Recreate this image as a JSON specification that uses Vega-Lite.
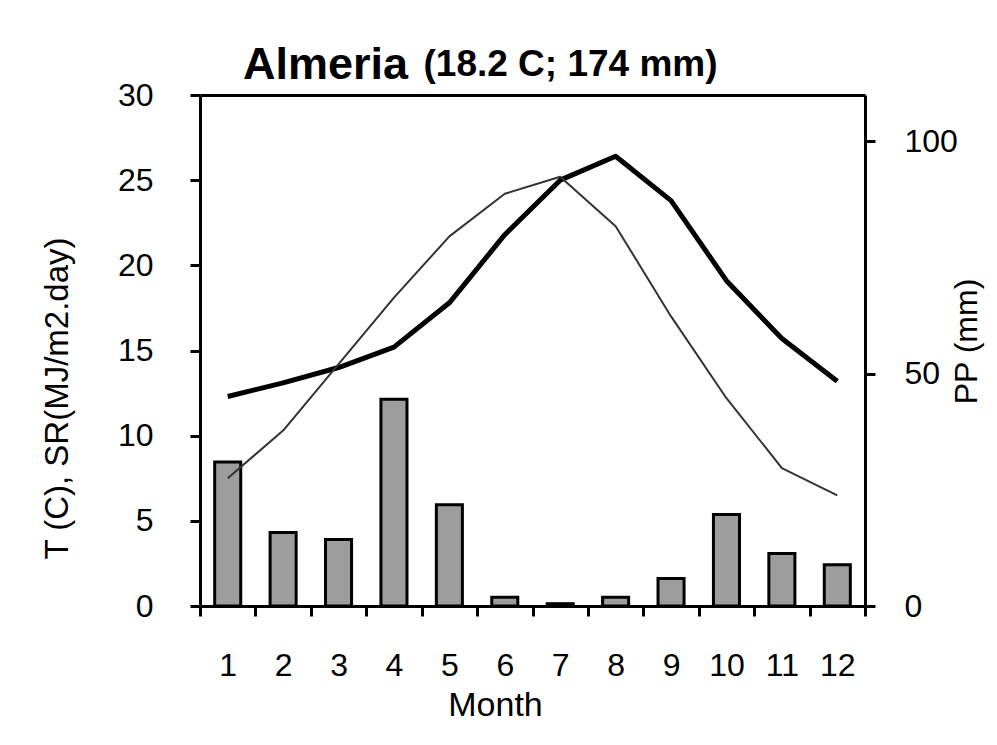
{
  "$schema": "https://vega.github.io/schema/vega-lite/v6.json",
  "width": 665,
  "height": 511,
  "autosize": "none",
  "padding": {"left": 200, "top": 95, "right": 132, "bottom": 139},
  "background": "white",
  "title": {"text": "Almeria", "anchor": "start", "frame": "group", "dx": 43, "dy": 47, "fontSize": 45, "fontWeight": "bold", "font": "Liberation Sans", "color": "black"},
  "data": {"values": [
    {"month": 1, "T": 12.3, "SR": 7.5, "PP": 31.0},
    {"month": 2, "T": 13.1, "SR": 10.3, "PP": 15.8},
    {"month": 3, "T": 14.0, "SR": 14.2, "PP": 14.3},
    {"month": 4, "T": 15.2, "SR": 18.1, "PP": 44.5},
    {"month": 5, "T": 17.8, "SR": 21.7, "PP": 21.8},
    {"month": 6, "T": 21.8, "SR": 24.2, "PP": 1.9},
    {"month": 7, "T": 25.0, "SR": 25.2, "PP": 0.5},
    {"month": 8, "T": 26.4, "SR": 22.3, "PP": 1.9},
    {"month": 9, "T": 23.8, "SR": 17.0, "PP": 5.9},
    {"month": 10, "T": 19.1, "SR": 12.2, "PP": 19.7},
    {"month": 11, "T": 15.7, "SR": 8.1, "PP": 11.3},
    {"month": 12, "T": 13.2, "SR": 6.5, "PP": 8.9}
  ]},
  "config": {
    "view": {"stroke": null},
    "axis": {
      "grid": false,
      "domainColor": "black",
      "domainWidth": 3,
      "tickColor": "black",
      "tickWidth": 3,
      "labelFont": "Liberation Sans",
      "titleFont": "Liberation Sans",
      "labelColor": "black",
      "titleColor": "black",
      "labelFontSize": 32,
      "titleFontSize": 33,
      "titleFontWeight": "normal"
    }
  },
  "resolve": {"scale": {"y": "independent"}, "axis": {"x": "independent"}},
  "layer": [
    {
      "mark": {"type": "bar", "fill": "#9d9d9d", "stroke": "black", "strokeWidth": 3, "width": {"band": 0.47}},
      "encoding": {
        "x": {
          "field": "month", "type": "ordinal",
          "scale": {"paddingInner": 0, "paddingOuter": 0},
          "axis": {
            "orient": "bottom", "labelAngle": 0, "tickBand": "extent", "tickSize": 10,
            "labelPadding": 34, "title": "Month", "titleFontSize": 34,
            "titleX": 295, "titleY": 109, "titleBaseline": "alphabetic", "titleAlign": "center",
            "encode": {"ticks": {"update": {"y": {"value": -10}}}}
          }
        },
        "y": {
          "field": "PP", "type": "quantitative",
          "scale": {"domain": [0, 110], "nice": false},
          "axis": {
            "orient": "right", "values": [0, 50, 100], "tickSize": 10, "labelPadding": 29,
            "title": "PP (mm)", "titleFontSize": 32, "titleAngle": 270,
            "titleX": 111, "titleY": 246, "titleBaseline": "alphabetic", "titleAlign": "center",
            "encode": {"ticks": {"update": {"x": {"value": -10}}}}
          }
        }
      }
    },
    {
      "transform": [{"fold": ["T", "SR"], "as": ["series", "value"]}],
      "mark": {"type": "line", "strokeJoin": "round"},
      "encoding": {
        "x": {
          "field": "month", "type": "ordinal",
          "axis": {
            "orient": "top", "labels": false, "ticks": false, "domain": true,
            "title": "(18.2 C; 174 mm)", "titleFontSize": 37, "titleFontWeight": "bold",
            "titleX": 223, "titleY": -20, "titleAlign": "left", "titleBaseline": "alphabetic", "titleAngle": 0
          }
        },
        "y": {
          "field": "value", "type": "quantitative",
          "scale": {"domain": [0, 30], "nice": false},
          "axis": {
            "orient": "left", "values": [0, 5, 10, 15, 20, 25, 30], "tickSize": 10, "labelPadding": 37,
            "title": "T (C), SR(MJ/m2.day)", "titleFontSize": 33, "titleAngle": 270,
            "titleX": -133, "titleY": 303, "titleBaseline": "alphabetic", "titleAlign": "center",
            "encode": {"ticks": {"update": {"x": {"value": 10}}}}
          }
        },
        "color": {"field": "series", "type": "nominal", "scale": {"domain": ["T", "SR"], "range": ["#000000", "#333333"]}, "legend": null},
        "strokeWidth": {"field": "series", "type": "ordinal", "scale": {"domain": ["T", "SR"], "range": [5, 2]}, "legend": null}
      }
    }
  ]
}
